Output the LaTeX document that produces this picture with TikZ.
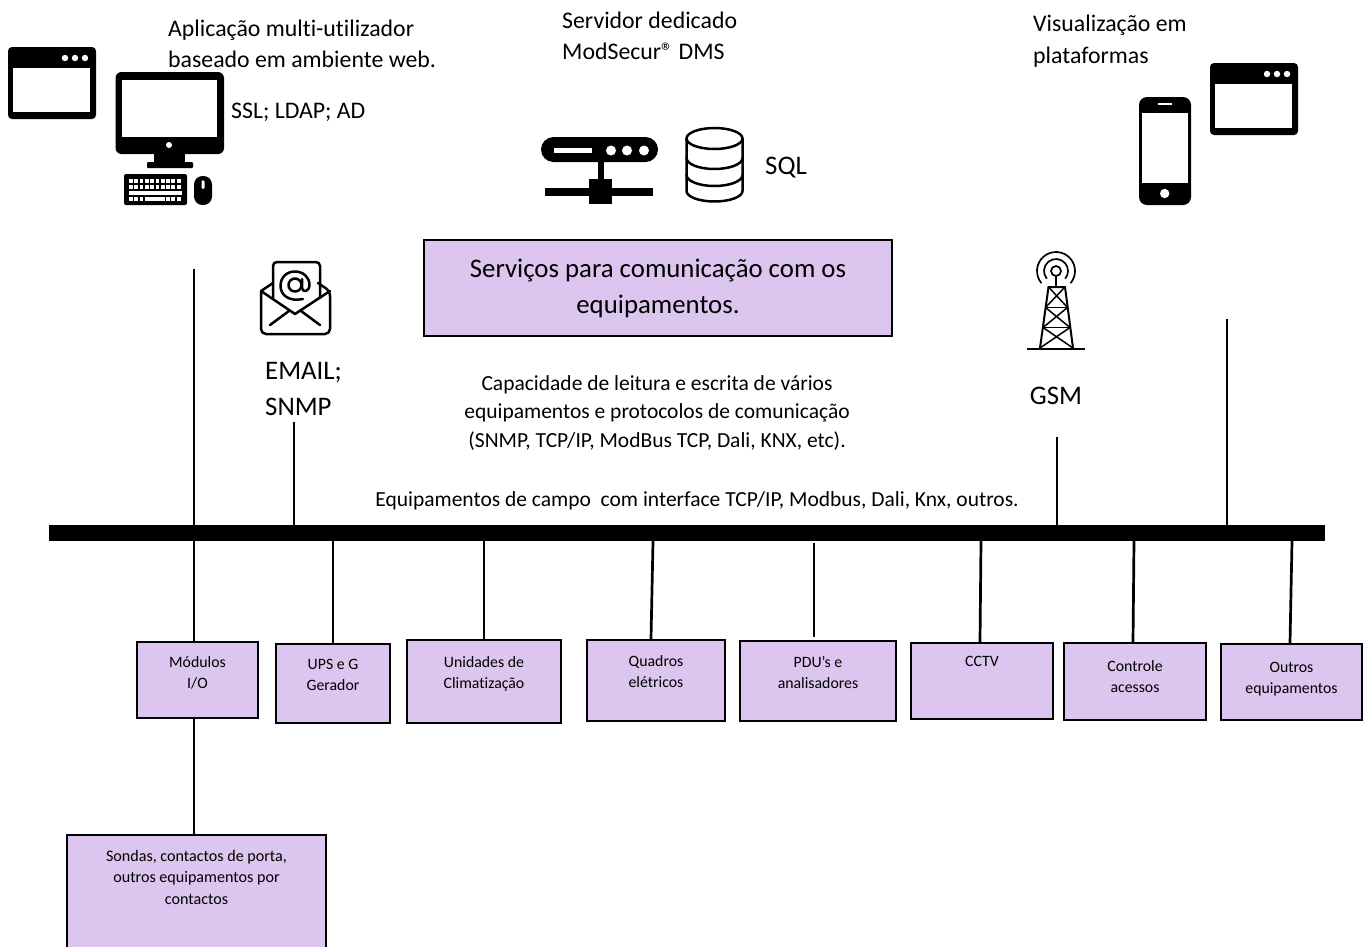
\documentclass[tikz,border=0pt]{standalone}
\usepackage{fontspec}
\setmainfont[Ligatures = NoCommon]{Carlito}
\definecolor{boxlilac}{RGB}{220,197,238}
\tikzset {
    bigtext/.style = {inner sep = 0pt, align = left, font = \fontsize{23.8}{31.5}\selectfont},
    largetext/.style = {inner sep = 0pt, align = center, font = \fontsize{26.8}{36}\selectfont},
    midtext/.style = {inner sep = 0pt, align = center, font = \fontsize{21.5}{28.5}\selectfont},
    eqbox/.style = {
        draw, line width = 2.4pt, fill = boxlilac, inner sep = 0pt, align = center,
        font = \fontsize{15.8}{21}\selectfont
    },
    link/.style = {line width = 2.7pt},
    iconline/.style = {line width = 2.5pt, line cap = round, line join = round},
    browser/.pic = {
        \fill [rounded corners = 4pt] (0, 0) rectangle (88, 72);
        \fill [white] (5, 21) rectangle (82, 65);
        \foreach \dotx in {57, 67, 77} {
            \fill [white] (\dotx, 11) circle (3.2pt);
        }
    }
}
\begin{document}
\begin{tikzpicture}[x = 1pt, y = -1pt]
    \useasboundingbox (0, 0) rectangle (1368, 946);
    \clip (0, 0) rectangle (1368, 946);
    % bus and boxes
    \node (bus) [fill, inner sep = 0pt, minimum width = 1276, minimum height = 16] at (687, 533) {};
    \node (modulos) [eqbox, minimum width = 121, minimum height = 76] at (197.5, 680) {M\'odulos\\I/O\\[-7pt]\mbox{}};
    \node (ups) [eqbox, minimum width = 114, minimum height = 79] at (333, 683.5) {UPS e G\\Gerador\\[-3pt]\mbox{}};
    \node (unidades) [eqbox, minimum width = 154, minimum height = 83] at (484, 681.5) {Unidades de\\Climatiza\c c\~ao\\[-3pt]\mbox{}};
    \node (quadros) [eqbox, minimum width = 138, minimum height = 81] at (656, 680.5) {Quadros\\el\'etricos\\[-3pt]\mbox{}};
    \node (pdu) [eqbox, minimum width = 156, minimum height = 80] at (818, 681) {PDU’s e\\analisadores\\[-3pt]\mbox{}};
    \node (cctv) [eqbox, minimum width = 142, minimum height = 76] at (982, 681) {CCTV\\\mbox{}\\[-3pt]\mbox{}};
    \node (controle) [eqbox, minimum width = 142, minimum height = 77] at (1135, 681.5) {Controle\\acessos\\[-12pt]\mbox{}};
    \node (outros) [eqbox, minimum width = 141, minimum height = 76] at (1291.5, 682) {Outros\\equipamentos\\[-12pt]\mbox{}};
    \node (sondas) [eqbox, minimum width = 259, minimum height = 125, font = \fontsize{16.1}{21.2}\selectfont] at (196.5, 897.5) {Sondas, contactos de porta,\\outros equipamentos por\\contactos\\\mbox{}\\[-2pt]\mbox{}};
    \node (servicos) [draw, line width = 1.5pt, fill = boxlilac, minimum width = 468, minimum height = 96, largetext] at (658, 288) {Servi\c cos para comunica\c c\~ao com os\\equipamentos.};
    % texts
    \node (aplicacao) [bigtext, anchor = west] at (168, 44) {Aplica\c c\~ao multi-utilizador\\baseado em ambiente web.};
    \node (ssl) [bigtext, anchor = west] at (231, 112) {SSL; LDAP; AD};
    \node (servidor) [bigtext, anchor = west] at (562, 36) {Servidor dedicado\\ModSecur® DMS};
    \node (sql) [largetext, anchor = west] at (765, 168) {SQL};
    \node (visual) [bigtext, anchor = west] at (1033, 41) {Visualiza\c c\~ao em\\plataformas};
    \node (email) [largetext, align = left, anchor = west] at (265, 389) {EMAIL;\\SNMP};
    \node (gsm) [largetext] at (1056, 396) {GSM};
    \node (capacidade) [midtext] at (657, 413) {Capacidade de leitura e escrita de v\'arios\\equipamentos e protocolos de comunica\c c\~ao\\(SNMP, TCP/IP, ModBus TCP, Dali, KNX, etc).};
    \node (campo) [midtext] at (697, 501) {Equipamentos de campo~ com interface TCP/IP, Modbus, Dali, Knx, outros.};
    % connectors
    \coordinate (monitorend) at (194, 269);
    \coordinate (emailend) at (294, 422);
    \coordinate (gsmend) at (1057, 437);
    \coordinate (mobileend) at (1227, 319);
    \coordinate (pdutop) at (814, 543);
    \coordinate (pdubottom) at (814, 637);
    \draw [link] (monitorend) -- (modulos.north -| monitorend);
    \draw [link] (modulos.south -| monitorend) -- (sondas.north -| monitorend);
    \draw [link] (emailend) -- (bus.north -| emailend);
    \draw [link] (gsmend) -- (bus.north -| gsmend);
    \draw [link] (mobileend) -- (bus.north -| mobileend);
    \draw [link] (pdutop) -- (pdubottom);
    \foreach \name/\xtop/\xend in {ups/333/333, unidades/484/484, quadros/653/651, cctv/981/980, controle/1134/1133, outros/1292/1290} {
        \coordinate (top) at (\xtop, 0);
        \coordinate (end) at (\xend, 0);
        \draw [link] (bus.south -| top) -- (\name.north -| end);
    }
    % browser windows
    \pic at (8, 47) {browser};
    \pic at (1210, 63) {browser};
    % desktop
    \fill [rounded corners = 6pt] (115.5, 72) rectangle (224, 154);
    \fill [white] (122, 80) rectangle (217, 137);
    \fill [white] (169, 145) circle (3pt);
    \fill (154, 150) rectangle (185, 163);
    \fill [rounded corners = 1pt] (147, 162) rectangle (193, 168);
    \fill [rounded corners = 2pt] (124, 174) rectangle (187, 205);
    \foreach \keyy in {179, 185, 197} {
        \foreach \keyx in {0, ..., 9} {
            \fill [white] (129 + \keyx * 5.3, \keyy) rectangle ++(3.8, 3.8);
        }
    }
    \fill [white] (129, 191) rectangle (182, 195);
    \fill [white] (148, 197) rectangle (164, 201);
    \fill [rounded corners = 8.5pt] (194, 176) rectangle (212, 205);
    \fill [white, rounded corners = 1.5pt] (201.5, 180) rectangle (204.5, 189);
    % server
    \fill [rounded corners = 12.5pt] (541, 137) rectangle (658, 162);
    \fill [white] (554, 148) rectangle (592, 153);
    \foreach \dotx in {611, 627, 644} {
        \fill [white] (\dotx, 150.5) circle (5pt);
    }
    \fill (598, 160) rectangle (604, 180);
    \fill (589, 179) rectangle (612, 204);
    \fill (545, 188) rectangle (653, 196);
    % database
    \draw [iconline] (714.5, 138.5) ellipse [x radius = 28, y radius = 10.5];
    \draw [iconline] (686.5, 138.5) -- (686.5, 191) arc [start angle = 180, end angle = 0, x radius = 28, y radius = 10.5] -- (742.5, 138.5);
    \draw [iconline] (686.5, 158) arc [start angle = 180, end angle = 0, x radius = 28, y radius = 11];
    \draw [iconline] (686.5, 175) arc [start angle = 180, end angle = 0, x radius = 28, y radius = 11];
    % phone
    \fill [rounded corners = 8pt] (1139, 97) rectangle (1191, 205);
    \fill [white] (1142, 113) rectangle (1188, 183);
    \fill [white] (1164.7, 193.5) circle (4.7pt);
    \draw [white, line width = 1.5pt] (1158, 104) -- (1172, 104);
    % envelope
    \draw [iconline] (273, 283) -- (261, 291) -- (261, 328) [rounded corners = 5pt] -- (261, 334) -- (330, 334) -- (330, 291) [sharp corners] -- (318, 283);
    \draw [iconline] (273, 298) [rounded corners = 4pt] -- (273, 262) -- (320, 262) [sharp corners] -- (320, 298);
    \draw [iconline] (261, 291) -- (295, 314) -- (330, 291);
    \draw [iconline] (270, 325) -- (289, 311);
    \draw [iconline] (320, 325) -- (301, 311);
    \draw [iconline] (295, 285) circle (6.5pt);
    \draw [iconline] (302, 279) -- (302, 288) .. controls (303, 293) and (309, 292) .. (309.5, 285) .. controls (309.5, 277) and (303, 271.5) .. (295, 271.5) .. controls (287, 271.5) and (280.5, 277) .. (280.5, 286) .. controls (280.5, 295) and (289, 302) .. (303, 299);
    % tower
    \draw [line width = 2pt] (1027, 348.5) -- (1085, 348.5);
    \draw [line width = 2pt] (1040, 348) -- (1048.5, 287) -- (1065, 287) -- (1073, 348);
    \draw [line width = 1.5pt] (1045.5, 307.5) -- (1067.5, 307.5);
    \draw [line width = 1.5pt] (1043, 327.5) -- (1070, 327.5);
    \draw [line width = 1.5pt] (1048.5, 287) -- (1067.5, 307.5) (1065, 287) -- (1045.5, 307.5);
    \draw [line width = 1.5pt] (1045.5, 307.5) -- (1070, 327.5) (1067.5, 307.5) -- (1043, 327.5);
    \draw [line width = 1.5pt] (1043, 327.5) -- (1073, 348) (1070, 327.5) -- (1040, 348);
    \draw [line width = 1.7pt] (1056, 276) -- (1056, 287);
    \draw [line width = 1.7pt] (1056, 271) circle (5pt);
    \draw [line width = 1.7pt] (1056, 271) ++(140:12) arc [start angle = 140, end angle = 400, radius = 12];
    \draw [line width = 1.7pt] (1056, 271) ++(140:19) arc [start angle = 140, end angle = 400, radius = 19];
\end{tikzpicture}
\end{document}
